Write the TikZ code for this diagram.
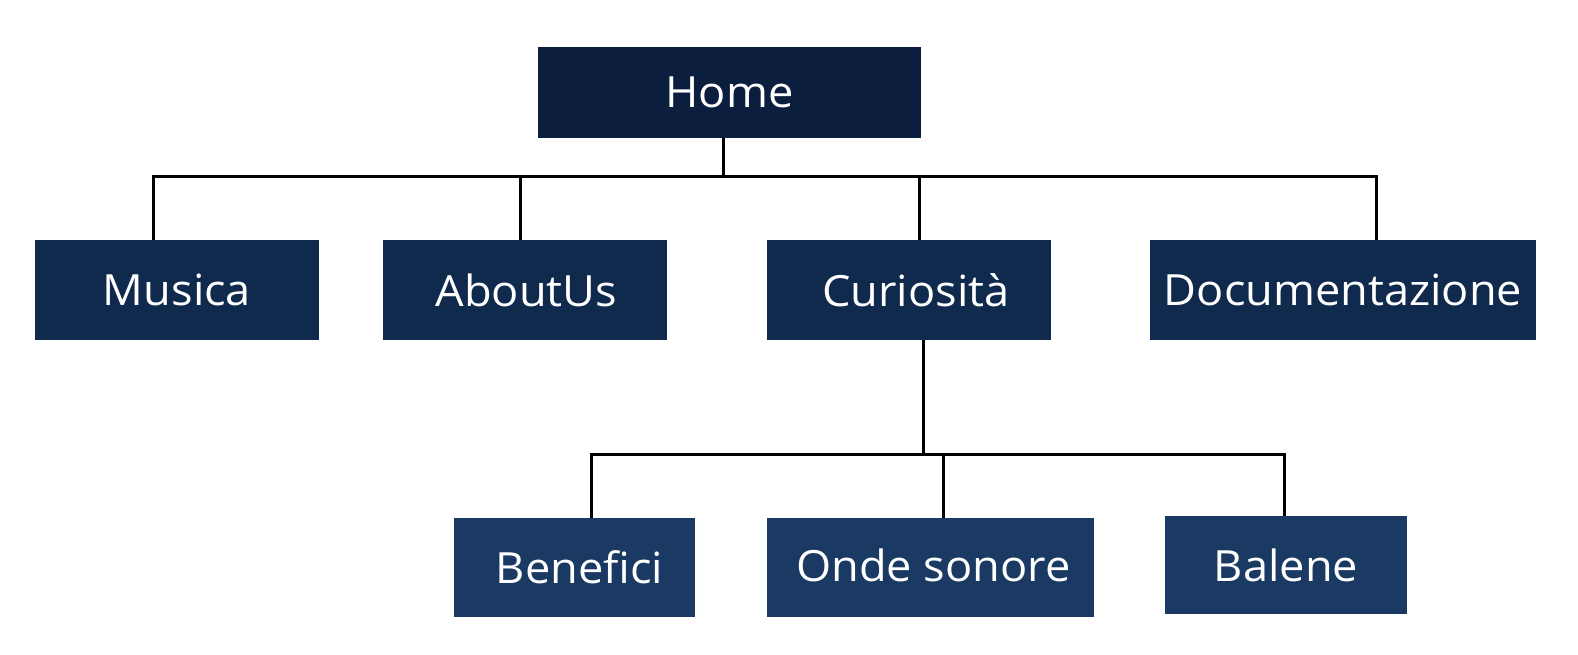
\documentclass[tikz,border=0pt]{standalone}
\usepackage{fontspec}
\setmainfont[FakeStretch=1.05]{Open Sans}
\definecolor{navyA}{RGB}{11,30,62}
\definecolor{navyB}{RGB}{16,42,78}
\definecolor{navyC}{RGB}{26,58,99}
\begin{document}
\begin{tikzpicture}[x=1pt,y=-1pt,
  box/.style={rectangle, inner sep=0pt, draw=none, text=white, font=\fontsize{43}{51}\selectfont},
  lvlA/.style={box, fill=navyA},
  lvlB/.style={box, fill=navyB, minimum height=100pt},
  lvlC/.style={box, fill=navyC, minimum height=99pt},
  link/.style={line width=3pt, black, line join=miter}]
\useasboundingbox (0,0) rectangle (1578,654);
% nodes
\node[lvlA, minimum width=383pt, minimum height=91pt] (home) at (729.5,92.5) {Home};
\node[lvlB, minimum width=284pt] (musica) at (177,290) {Musica};
\node[lvlB, minimum width=284pt] (about) at (525,290) {\hspace*{3pt}AboutUs};
\node[lvlB, minimum width=284pt] (curio) at (909,290) {\hspace*{14pt}Curiosità};
\node[lvlB, minimum width=386pt] (doc) at (1343,290) {Documentazione};
\node[lvlC, minimum width=241pt] (benef) at (574.5,567.5) {\hspace*{10pt}Benefici};
\node[lvlC, minimum width=327pt] (onde) at (930.5,567.5) {\hspace*{6pt}\raisebox{4pt}{Onde sonore}};
\node[lvlC, minimum width=242pt, minimum height=98pt] (balene) at (1286,565) {Balene};
% junction coordinates
\coordinate (hub) at (723,176);
\coordinate (dm) at (153,176);
\coordinate (da) at (520,176);
\coordinate (dc) at (919,176);
\coordinate (dd) at (1376,176);
\coordinate (hub2) at (923,454);
\coordinate (db) at (591,454);
\coordinate (do) at (943,454);
\coordinate (dl) at (1284,454);
% connectors level 1
\draw[link] (hub |- home.south) -- (hub);
\draw[link] (dm |- musica.north) -- (dm) -- (dd) -- (dd |- doc.north);
\draw[link] (da) -- (da |- about.north);
\draw[link] (dc) -- (dc |- curio.north);
% connectors level 2
\draw[link] (hub2 |- curio.south) -- (hub2);
\draw[link] (db |- benef.north) -- (db) -- (dl) -- (dl |- balene.north);
\draw[link] (do) -- (do |- onde.north);
\end{tikzpicture}
\end{document}
